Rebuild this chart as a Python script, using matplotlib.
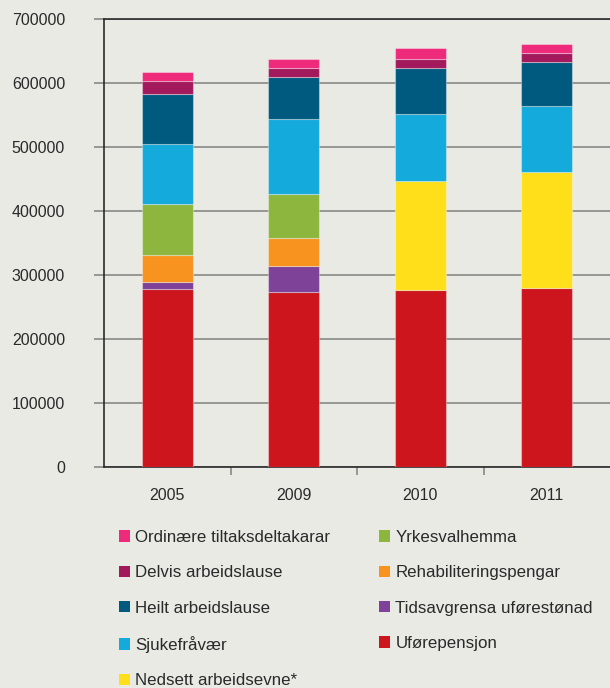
import numpy as np
import matplotlib
matplotlib.use("Agg")
import matplotlib.pyplot as plt
from matplotlib.patches import Patch

# Data (persons)
years = ["2005", "2009", "2010", "2011"]
uforepensjon = [277600, 273000, 276600, 279700]
tidsavgrensa = [12000, 41000, 0, 0]
rehabilitering = [42200, 43300, 0, 0]
yrkesvalhemma = [79600, 69700, 0, 0]
nedsett = [0, 0, 170300, 180700]
sjukefravaer = [92800, 116750, 104100, 103600]
heilt = [79100, 65050, 73000, 68300]
delvis = [20300, 14100, 14000, 14100]
ordinaere = [13100, 14600, 16200, 15100]

yticks = [0, 100000, 200000, 300000, 400000, 500000, 600000, 700000]

# stacking order bottom->top
serier = [
    ("Uførepensjon", uforepensjon, "#cd151e"),
    ("Tidsavgrensa uførestønad", tidsavgrensa, "#7f4299"),
    ("Rehabiliteringspengar", rehabilitering, "#f7931e"),
    ("Yrkesvalhemma", yrkesvalhemma, "#8db63f"),
    ("Nedsett arbeidsevne*", nedsett, "#ffdf1a"),
    ("Sjukefråvær", sjukefravaer, "#14aadb"),
    ("Heilt arbeidslause", heilt, "#005a80"),
    ("Delvis arbeidslause", delvis, "#a31a5c"),
    ("Ordinære tiltaksdeltakarar", ordinaere, "#ee2a7b"),
]
legend_order = ["Ordinære tiltaksdeltakarar", "Delvis arbeidslause", "Heilt arbeidslause",
                "Sjukefråvær", "Nedsett arbeidsevne*", "Yrkesvalhemma",
                "Rehabiliteringspengar", "Tidsavgrensa uførestønad", "Uførepensjon"]

bg = "#e9eae4"
plt.rcParams['font.family'] = ['Liberation Sans', 'DejaVu Sans']

fig = plt.figure(figsize=(6.1, 6.88), dpi=100, facecolor=bg)
ax = fig.add_axes([104/610, 1-467/688, 1-104/610, (467-19)/688], facecolor=bg)

x = np.arange(len(years))
bunn = np.zeros(len(years))
farger = {}
for navn, verdier, farge in serier:
    v = np.array(verdier, dtype=float)
    idx = v > 0
    ax.bar(x[idx], v[idx], bottom=bunn[idx], width=0.4, color=farge,
           edgecolor=(1, 1, 1, 0.35), linewidth=0.8, zorder=3)
    bunn += v
    farger[navn] = farge

ax.set_xlim(-0.5, 3.5)
ax.set_ylim(0, 700000)
ax.set_yticks(yticks)
ax.set_yticklabels([str(t) for t in yticks])
ax.yaxis.grid(True, color="#808080", linewidth=1.1, zorder=1)
ax.tick_params(axis='y', length=7, color="#808080", width=1.1, pad=21, labelsize=11.5, labelcolor="#2a2a2a")

ax.set_xticks(x)
ax.set_xticklabels(years)
ax.set_xticks([0.5, 1.5, 2.5], minor=True)
ax.tick_params(axis='x', which='major', length=0, pad=15, labelsize=11.5, labelcolor="#2a2a2a")
ax.tick_params(axis='x', which='minor', length=6, color="#808080", width=1.1)

ax.spines["right"].set_visible(False)
for s in ["left", "bottom", "top"]:
    ax.spines[s].set_color("#2a2a2a")
    ax.spines[s].set_linewidth(1.2)

handles = [Patch(facecolor=farger[n], edgecolor='none', label=n) for n in legend_order]
fig.legend(handles=handles, loc='upper left', bbox_to_anchor=(119/610, 1-530/688),
           ncol=2, frameon=False, fontsize=12.2, handlelength=0.65, handleheight=0.65,
           handletextpad=0.3, columnspacing=2.9, labelspacing=1.2,
           borderpad=0, borderaxespad=0, labelcolor="#2a2a2a")

fig.savefig("out.png", dpi=100, facecolor=bg)
